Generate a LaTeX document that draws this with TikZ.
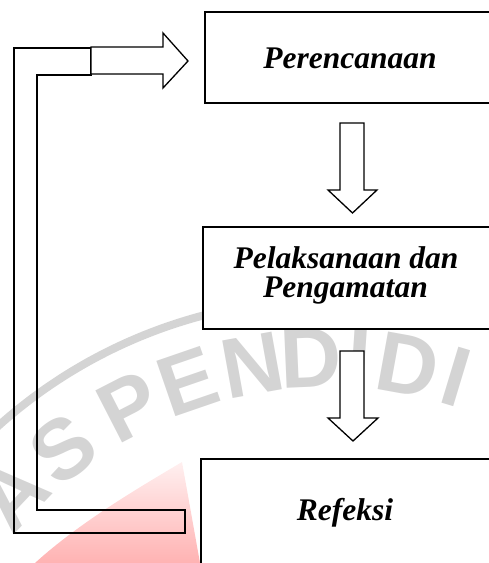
\documentclass[tikz,border=0pt]{standalone}
\usepackage{fontspec}
\setmainfont{Liberation Serif}
\newfontfamily\wmfont{Liberation Sans}
\definecolor{wmgray}{RGB}{212,212,212}
\begin{document}
\begin{tikzpicture}[x=1pt,y=-1pt,
  box/.style={draw=black,line width=1.6pt,fill=white,inner sep=0pt},
  lbl/.style={font=\fontsize{31.5}{30}\selectfont\bfseries\itshape,inner sep=0pt,anchor=base},
  blockarrow/.style={draw=black,line width=1.3pt,fill=white,line join=miter},
  loopband/.style={draw=black,line width=1.3pt,line join=miter},
  wmletter/.style={font=\wmfont\fontsize{85}{85}\selectfont\bfseries,text=wmgray,inner sep=0pt,anchor=center}]
\useasboundingbox (0,0) rectangle (488,563);
% --- faint background watermark ---
\shade[top color=red!6,bottom color=red!30,draw=none]
  (182,462) -- (200,563) -- (35,563) .. controls (80,522) and (140,487) .. (182,462) -- cycle;
\draw[wmgray,line width=8pt] plot[domain=-45:0,samples=60] ({330+497*sin(\x)},{796-497*cos(\x)});
\foreach \ch/\ang [count=\i] in {A/-46.5,S/-37.5,P/-27.2,E/-19.0,N/-10.2,D/-2.5,I/3.8,D/10.3,I/16.8}
  \node[wmletter,rotate=-\ang] (wm\i) at ({330+438*sin(\ang)},{796-438*cos(\ang)}) {\ch};
% --- boxes ---
\node[box,minimum width=290pt,minimum height=91pt] (plan) at (350,57.5) {};
\node[box,minimum width=292pt,minimum height=102pt] (act) at (349,278) {};
\node[box,minimum width=292pt,minimum height=120pt] (refl) at (347,519) {};
% --- texts ---
\node[lbl] (tplan) at (350,68) {Perencanaan};
\node[lbl] (tact1) at (346,268) {Pelaksanaan dan};
\node[lbl] (tact2) at (345.5,297) {Pengamatan};
\node[lbl] (trefl) at (345,520) {Refeksi};
% --- down arrows ---
\draw[blockarrow] (340,123) -- (364,123) -- (364,190) -- (377,190) -- (352.5,213)
  -- (328,190) -- (340,190) -- cycle;
\draw[blockarrow] (340,351) -- (364,351) -- (364,418) -- (378,418) -- (353,441)
  -- (328,418) -- (340,418) -- cycle;
% --- feedback loop band ---
\draw[loopband] (14,48) -- (91,48) -- (91,75) -- (37,75) -- (37,510) -- (185,510)
  -- (185,533) -- (14,533) -- cycle;
% --- arrow into planning ---
\coordinate (tip) at (188,61);
\draw[blockarrow] (91,47) -- (163,47) -- (163,33) -- (tip) -- (163,88) -- (163,74)
  -- (91,74) -- cycle;
\end{tikzpicture}
\end{document}
